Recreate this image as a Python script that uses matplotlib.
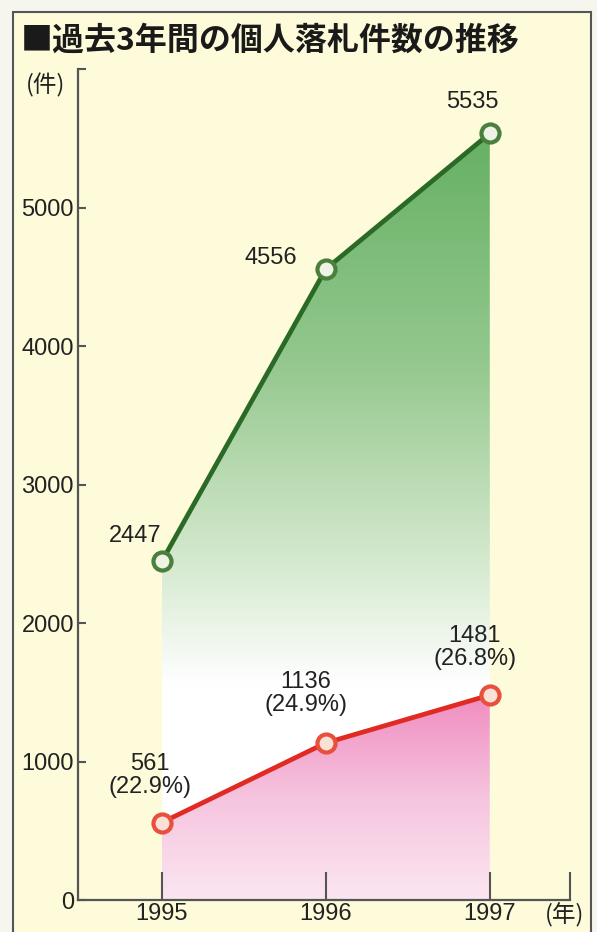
import numpy as np
import matplotlib.pyplot as plt
from matplotlib.colors import LinearSegmentedColormap
from matplotlib.patches import Rectangle

plt.rcParams['font.family'] = ['Liberation Sans', 'Noto Sans CJK JP']

years = [1995, 1996, 1997]
total = [2447, 4556, 5535]
kojin = [561, 1136, 1481]
ratio = ["22.9%", "24.9%", "26.8%"]
yticks = [0, 1000, 2000, 3000, 4000, 5000]

bg = "#fdfbd9"
fig = plt.figure(figsize=(5.97, 9.32), dpi=100, facecolor="#f6f5ee")
fig.patches.append(Rectangle((0.022, -0.01), 0.968, 0.997, transform=fig.transFigure,
                             facecolor=bg, edgecolor="#555555", lw=1.5, zorder=-10))
ax = fig.add_axes([0.131, 0.034, 0.824, 0.892])
ax.set_facecolor("none")

# gradient fills clipped to the area under each line
def grad_fill(x, y, cols, top):
    poly = ax.fill_between(x, y, 0, color="none", lw=0)
    cmap = LinearSegmentedColormap.from_list("g", cols)
    z = np.linspace(0, 1, 256).reshape(-1, 1)
    im = ax.imshow(z, cmap=cmap, aspect="auto", origin="lower",
                   extent=[x[0], x[-1], 0, top], zorder=1)
    im.set_clip_path(poly.get_paths()[0], transform=ax.transData)

grad_fill(years, total, [(0, "#ffffff"), (0.28, "#ffffff"), (0.45, "#d3e8cc"),
                         (0.7, "#94c88e"), (1, "#66b064")], 5535)
grad_fill(years, kojin, ["#fbe6f1", "#f6c4de", "#f08cc0"], 1481)
ax.set_xlim(1994.49, 1997.49)
ax.set_ylim(0, 6000)

ax.plot(years, total, color="#2b6a26", lw=3.4, zorder=3,
        marker="o", ms=13, mfc="#eef3e4", mec="#4a7f3e", mew=3)
ax.plot(years, kojin, color="#e02a22", lw=3.4, zorder=3,
        marker="o", ms=13, mfc="#fbe0d6", mec="#e8503e", mew=3)

tot_off = [(-27, 25), (-55, 11), (-17, 31)]
for x, y, off in zip(years, total, tot_off):
    ax.annotate(str(y), (x, y), xytext=off, textcoords="offset pixels",
                ha="center", va="center", fontsize=17, color="#222222")
koj_off = [(-12, 47), (-20, 49), (-15, 48)]
for x, y, r, off in zip(years, kojin, ratio, koj_off):
    ax.annotate(f"{y}\n({r})", (x, y), xytext=off, textcoords="offset pixels",
                ha="center", va="center", fontsize=17, color="#222222", linespacing=1.05)

for s in ["top", "right"]:
    ax.spines[s].set_visible(False)
for s in ["left", "bottom"]:
    ax.spines[s].set_color("#555555")
    ax.spines[s].set_linewidth(1.6)

ax.set_yticks(yticks + [6000])
ax.set_yticklabels([str(v) for v in yticks] + [""])
ax.set_xticks(years + [1997.49])
ax.set_xticklabels([str(v) for v in years] + [""])
ax.tick_params(axis="y", direction="in", length=6, width=1.5, colors="#555555",
               labelcolor="#222222", labelsize=17, pad=3)
ax.tick_params(axis="x", direction="in", length=20, width=1.5, colors="#555555",
               labelcolor="#222222", labelsize=17, pad=2)

fig.text(0.035, 0.956, "■過去3年間の個人落札件数の推移", fontsize=23, fontweight="bold",
         family=["Noto Sans CJK JP"], color="#1a1a1a", va="center")
fig.text(0.077, 0.908, "(件)", fontsize=17, family=["Noto Sans CJK JP"], ha="center",
         va="center", color="#222222")
fig.text(0.945, 0.018, "(年)", fontsize=17, family=["Noto Sans CJK JP"], ha="center",
         va="center", color="#222222")

fig.savefig("out.png", dpi=100, facecolor=fig.get_facecolor())
